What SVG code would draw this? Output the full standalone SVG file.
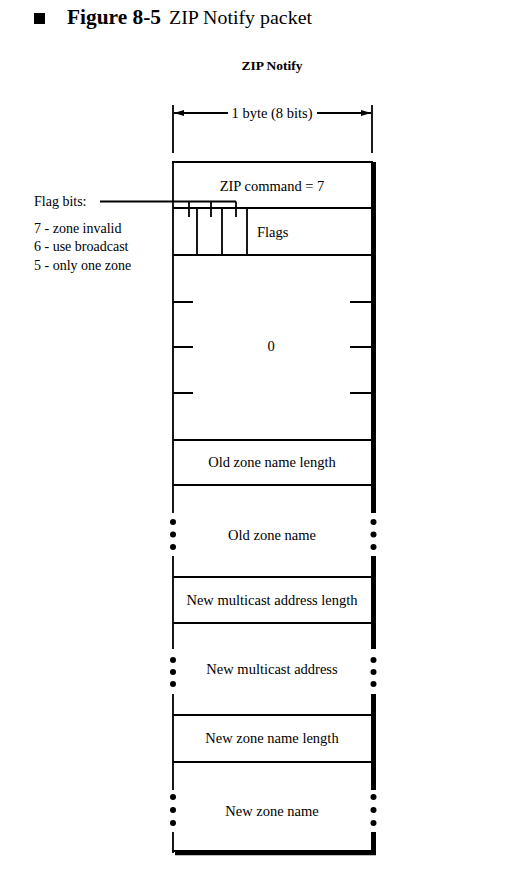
<svg xmlns="http://www.w3.org/2000/svg" width="512" height="877" viewBox="0 0 512 877">
<style>
text{font-family:"Liberation Serif","Times New Roman",serif;fill:#000}
.t{font-size:14.5px;text-anchor:middle}
.l{font-size:14.5px}
.lg{font-size:14px}
.thin{stroke:#000;stroke-width:1.8;fill:none}
.thick{stroke:#000;stroke-width:5;fill:none}
.dot{fill:#000}
</style>
<defs>
<marker id="ah" viewBox="0 0 10 6" refX="10" refY="3" markerWidth="10" markerHeight="6" markerUnits="userSpaceOnUse" orient="auto">
<path d="M0,0 L10,3 L0,6 Z" fill="#000"/>
</marker>
</defs>
<rect width="512" height="877" fill="#fff"/>
<g id="title">
<rect x="34" y="13" width="11" height="11" fill="#000"/>
<text x="67" y="24" style="font-size:20px;font-weight:bold" textLength="94" lengthAdjust="spacingAndGlyphs">Figure 8-5</text>
<text x="169" y="24" style="font-size:19.5px" textLength="143" lengthAdjust="spacingAndGlyphs">ZIP Notify packet</text>
</g>
<g id="subtitle">
<text x="272" y="70" style="font-size:13.5px;font-weight:bold;text-anchor:middle">ZIP Notify</text>
</g>
<g id="dimension">
<line class="thin" x1="173" y1="105" x2="173" y2="153"/>
<line class="thin" x1="372" y1="105" x2="372" y2="153"/>
<line class="thin" x1="228" y1="113" x2="174" y2="113" marker-end="url(#ah)"/>
<line class="thin" x1="317" y1="113" x2="371" y2="113" marker-end="url(#ah)"/>
<text class="t" x="272" y="118">1 byte (8 bits)</text>
</g>
<g id="frame">
<line class="thin" x1="172" y1="162" x2="373" y2="162"/>
<path class="thin" d="M173,162 V513 M173,556 V649 M173,694 V790 M173,832 V853"/>
<path class="thick" d="M373.5,162 V513 M373.5,556 V649 M373.5,694 V790 M373.5,832 V855"/>
<line class="thin" x1="172" y1="851" x2="373" y2="851"/>
<line stroke="#000" stroke-width="3.5" x1="175" y1="853.5" x2="376" y2="853.5"/>
<circle class="dot" cx="173" cy="522" r="3"/><circle class="dot" cx="173" cy="534.5" r="3"/><circle class="dot" cx="173" cy="547" r="3"/>
<circle class="dot" cx="373.5" cy="522" r="3"/><circle class="dot" cx="373.5" cy="534.5" r="3"/><circle class="dot" cx="373.5" cy="547" r="3"/>
<circle class="dot" cx="173" cy="660" r="3"/><circle class="dot" cx="173" cy="672" r="3"/><circle class="dot" cx="173" cy="684" r="3"/>
<circle class="dot" cx="373.5" cy="660" r="3"/><circle class="dot" cx="373.5" cy="672" r="3"/><circle class="dot" cx="373.5" cy="684" r="3"/>
<circle class="dot" cx="173" cy="797" r="3"/><circle class="dot" cx="173" cy="810" r="3"/><circle class="dot" cx="173" cy="823" r="3"/>
<circle class="dot" cx="373.5" cy="797" r="3"/><circle class="dot" cx="373.5" cy="810" r="3"/><circle class="dot" cx="373.5" cy="823" r="3"/>
</g>
<g id="zip-command">
<text class="t" x="272" y="191">ZIP command = 7</text>
<line class="thin" x1="173" y1="208" x2="372" y2="208"/>
</g>
<g id="flags">
<path class="thin" d="M197,208 V255 M222,208 V255 M247,208 V255"/>
<text class="l" x="257" y="237">Flags</text>
<line class="thin" x1="173" y1="255" x2="372" y2="255"/>
</g>
<g id="zero">
<path class="thin" d="M173,302 H193 M173,347 H193 M173,393 H193 M350,302 H372 M350,347 H372 M350,393 H372"/>
<text class="t" x="271" y="351">0</text>
<line class="thin" x1="173" y1="440" x2="372" y2="440"/>
</g>
<g id="old-zone-name-length">
<text class="t" x="272" y="467">Old zone name length</text>
<line class="thin" x1="173" y1="485" x2="372" y2="485"/>
</g>
<g id="old-zone-name">
<text class="t" x="272" y="540">Old zone name</text>
<line class="thin" x1="173" y1="577" x2="372" y2="577"/>
</g>
<g id="new-multicast-address-length">
<text class="t" x="272" y="605">New multicast address length</text>
<line class="thin" x1="173" y1="623" x2="372" y2="623"/>
</g>
<g id="new-multicast-address">
<text class="t" x="272" y="674">New multicast address</text>
<line class="thin" x1="173" y1="715" x2="372" y2="715"/>
</g>
<g id="new-zone-name-length">
<text class="t" x="272" y="743">New zone name length</text>
<line class="thin" x1="173" y1="762" x2="372" y2="762"/>
</g>
<g id="new-zone-name">
<text class="t" x="272" y="816">New zone name</text>
</g>
<g id="flag-legend">
<text class="lg" x="34" y="206">Flag bits:</text>
<text class="lg" x="34" y="233">7 - zone invalid</text>
<text class="lg" x="34" y="251">6 - use broadcast</text>
<text class="lg" x="34" y="270">5 - only one zone</text>
</g>
<g id="connectors">
<path class="thin" d="M100,201.5 H236 M189,201.5 V217 M211,201.5 V217 M236,201.5 V217"/>
</g>
</svg>
